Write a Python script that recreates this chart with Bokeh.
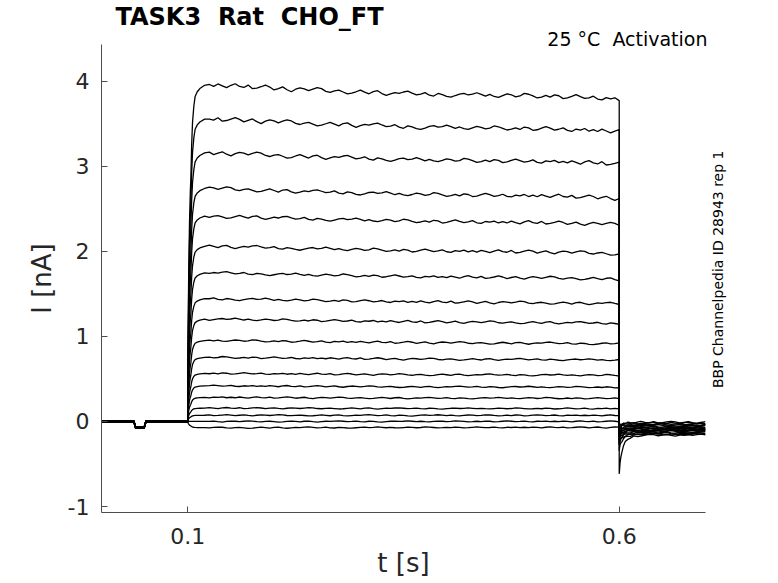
import numpy as np
from bokeh.plotting import figure
from bokeh.layouts import row
from bokeh.models import Range1d, FixedTicker, ColumnDataSource, Title, Label
from bokeh.embed import file_html
from bokeh.resources import INLINE

# ---- data ----
# steady-state current at end of the step (nA), one per sweep, top to bottom
levels = [3.78, 3.40, 3.02, 2.62, 2.31, 1.97, 1.67, 1.38, 1.15, 0.91,
          0.72, 0.54, 0.40, 0.27, 0.15, 0.07, 0.0, -0.07]
noise_scale = [1.0, 0.95, 0.9, 0.8, 0.75, 0.7, 0.6, 0.55, 0.5, 0.45,
               0.4, 0.35, 0.3, 0.3, 0.25, 0.25, 0.25, 0.25]
baseline_offset = [0.01, 0.0, -0.01, 0.005, -0.005, 0.0, 0.01, -0.01, 0.0,
                   0.005, -0.005, 0.0, 0.01, -0.01, 0.0, 0.005, -0.005, 0.0]
tail_peak = [-0.62, -0.34, -0.28, -0.25, -0.22, -0.20, -0.18, -0.16, -0.15,
             -0.14, -0.13, -0.12, -0.11, -0.10, -0.09, -0.08, -0.07, -0.06]
tail_end = [-0.16, -0.15, -0.14, -0.13, -0.12, -0.11, -0.105, -0.10, -0.09,
            -0.085, -0.08, -0.07, -0.06, -0.05, -0.04, -0.03, -0.02, -0.01]

# holding period (s, nA)
base_t = [0.0, 0.01, 0.02, 0.03, 0.0375, 0.0395, 0.0495, 0.0515, 0.06, 0.07, 0.08, 0.09, 0.0999]
base_v = [0.0, 0.0, 0.0, 0.0, 0.0, -0.07, -0.07, 0.0, 0.0, 0.0, 0.0, 0.0, 0.0]

# activation onset (fraction of steady level)
rise_t = [0.1, 0.1005, 0.101, 0.102, 0.103, 0.1035, 0.1045, 0.1055, 0.107, 0.1085, 0.111, 0.114, 0.1195]
rise_r = [0.0, 0.3, 0.45, 0.62, 0.72, 0.75, 0.86, 0.93, 0.98, 1.01, 1.025, 1.035, 1.045]

# slow decline during the step (fraction of steady level), 0.125..0.600 every 5 ms
drift = [1.045, 1.0445, 1.044, 1.0435, 1.043, 1.0425, 1.042, 1.0415, 1.041, 1.0405, 1.040,
         1.039, 1.038, 1.038, 1.037, 1.036, 1.035, 1.035, 1.034, 1.033, 1.033, 1.032,
         1.0315, 1.031, 1.0305, 1.030, 1.0295, 1.029, 1.0285, 1.028, 1.0275, 1.027, 1.0265, 1.026,
         1.025, 1.025, 1.024, 1.024, 1.023, 1.023, 1.022, 1.022, 1.021, 1.020, 1.020, 1.019,
         1.019, 1.018, 1.018, 1.018, 1.017, 1.017, 1.017, 1.017, 1.016, 1.016, 1.016,
         1.016, 1.015, 1.015, 1.015, 1.015, 1.014, 1.014, 1.014, 1.014, 1.013, 1.013, 1.013,
         1.013, 1.013, 1.012, 1.012, 1.012, 1.012, 1.012, 1.011, 1.011, 1.011, 1.011,
         1.010, 1.010, 1.009, 1.009, 1.008, 1.008, 1.007, 1.007, 1.006, 1.006, 1.005, 1.005,
         1.004, 1.003, 1.001, 1.000]

# recording noise (nA, largest sweep)
noise = [0.01, -0.01, 0.02, 0.00, -0.02, 0.01, 0.03, 0.00, -0.01, 0.02,
         -0.02, -0.01, 0.01, 0.03, 0.01, -0.02, 0.00, 0.02, -0.01, -0.03,
         0.00, 0.02, 0.01, -0.01, 0.01, 0.03, 0.02, -0.01, -0.02, 0.00,
         0.01, -0.01, -0.03, -0.02, 0.00, 0.02, 0.00, -0.02, 0.01, 0.02,
         -0.01, -0.03, -0.01, 0.01, 0.00, 0.02, 0.03, 0.01, -0.01, 0.00,
         0.02, -0.01, -0.02, 0.01, 0.00, -0.02, -0.03, -0.01, 0.01, 0.02,
         0.00, 0.01, 0.03, 0.01, -0.01, 0.01, -0.01, -0.02, 0.00, 0.02,
         0.01, -0.01, 0.00, 0.03, 0.02, 0.00, -0.02, -0.01, 0.01, -0.01,
         0.02, 0.01, -0.02, -0.01, 0.01, 0.03, 0.01, -0.01, 0.00, 0.02,
         -0.01, -0.02, 0.01, 0.00, 0.02, -0.01]

# tail after the step
tail_t = [0.6, 0.6005, 0.601, 0.602, 0.603, 0.605, 0.607, 0.61, 0.613, 0.617, 0.621, 0.625,
          0.63, 0.635, 0.64, 0.645, 0.65, 0.655, 0.66, 0.665, 0.67, 0.675, 0.68, 0.685, 0.69, 0.695, 0.7]
tail_f = [0.0, 0.15, 0.28, 0.45, 0.57, 0.72, 0.81, 0.89, 0.93, 0.96, 0.975, 0.985,
          0.99, 0.995, 1, 1, 1, 1, 1, 1, 1, 1, 1, 1, 1, 1, 1]

x_ticks = [0.1, 0.6]
y_ticks = [-1, 0, 1, 2, 3, 4]
y_tick_labels = {-1: "-1", 0: "0", 1: "1", 2: "2", 3: "3", 4: "4"}

# ---- build sweeps ----
sus_t = list(0.125 + 0.005 * np.arange(len(drift)))
n = len(noise)
xs, ys = [], []
for i, lev in enumerate(levels):
    x = list(base_t) + rise_t + sus_t + tail_t
    y = [v + baseline_offset[i] for v in base_v]
    y += [baseline_offset[i] if r == 0 else lev * r for r in rise_r]
    y += [lev * d + noise_scale[i] * noise[(k + 7 * i) % n] for k, d in enumerate(drift)]
    y += [tail_peak[i] + (tail_end[i] - tail_peak[i]) * f + 0.4 * noise[(j + 11 * i) % n]
          for j, f in enumerate(tail_f)]
    xs.append(x)
    ys.append(y)

src = ColumnDataSource(dict(xs=xs, ys=ys))

TOTAL_W, H = 776, 583
W = 710
p = figure(width=W, height=H, x_range=Range1d(0, 0.7), y_range=Range1d(-1.07, 4.43),
           output_backend="svg", toolbar_location=None, title=None,
           min_border_left=101, min_border_right=W - 705, min_border_top=43,
           min_border_bottom=H - 512)
p.multi_line(xs="xs", ys="ys", source=src, line_color="black", line_width=1.3)

p.xgrid.visible = False
p.ygrid.visible = False
p.outline_line_color = None
p.background_fill_color = "white"

FONT = "DejaVu Sans"
AX = "#262626"
for ax in (p.xaxis[0], p.yaxis[0]):
    ax.axis_line_color = "#4d4d4d"
    ax.major_tick_line_color = "#4d4d4d"
    ax.major_tick_in = 6
    ax.major_tick_out = 0
    ax.minor_tick_line_color = None
    ax.major_label_text_font = FONT
    ax.major_label_text_font_size = "22px"
    ax.major_label_text_color = AX
    ax.axis_label_text_font = FONT
    ax.axis_label_text_font_size = "26px"
    ax.axis_label_text_font_style = "normal"
    ax.axis_label_text_color = AX

p.xaxis[0].ticker = FixedTicker(ticks=x_ticks)
p.yaxis[0].ticker = FixedTicker(ticks=y_ticks)
p.xaxis[0].major_label_overrides = {0.1: "0.1", 0.6: "0.6"}
p.yaxis[0].major_label_overrides = y_tick_labels
p.xaxis[0].axis_label = "t [s]"
p.yaxis[0].axis_label = "I [nA]"
p.xaxis[0].major_label_standoff = 15
p.yaxis[0].major_label_standoff = 12
p.xaxis[0].axis_label_standoff = 1
p.yaxis[0].axis_label_standoff = 8

sub = Title(text="25 °C\u00a0 Activation", align="right", text_font=FONT, text_font_size="19px",
            text_font_style="normal", text_color="black", standoff=-10, offset=-2)
p.add_layout(sub, "above")
main = Title(text="TASK3\u00a0 Rat\u00a0 CHO_FT", align="left", text_font=FONT,
             text_font_size="24px", text_font_style="bold", text_color="black",
             standoff=0, offset=14)
p.add_layout(main, "above")

# narrow side panel carrying the vertical note
W2 = TOTAL_W - W
side = figure(width=W2, height=H, x_range=Range1d(0, W2), y_range=Range1d(0, H),
              output_backend="svg", toolbar_location=None, title=None,
              x_axis_location=None, y_axis_location=None,
              min_border_left=0, min_border_right=0, min_border_top=0, min_border_bottom=0)
side.grid.visible = False
side.outline_line_color = None
side.add_layout(Label(x=717 - W, y=H - 428, text="BBP Channelpedia ID 28943 rep 1",
                      angle=np.pi / 2, text_align="left", text_baseline="middle",
                      text_font=FONT, text_font_size="14px", text_color="black"))

open("out.html", "w").write(file_html(row(p, side), INLINE))
